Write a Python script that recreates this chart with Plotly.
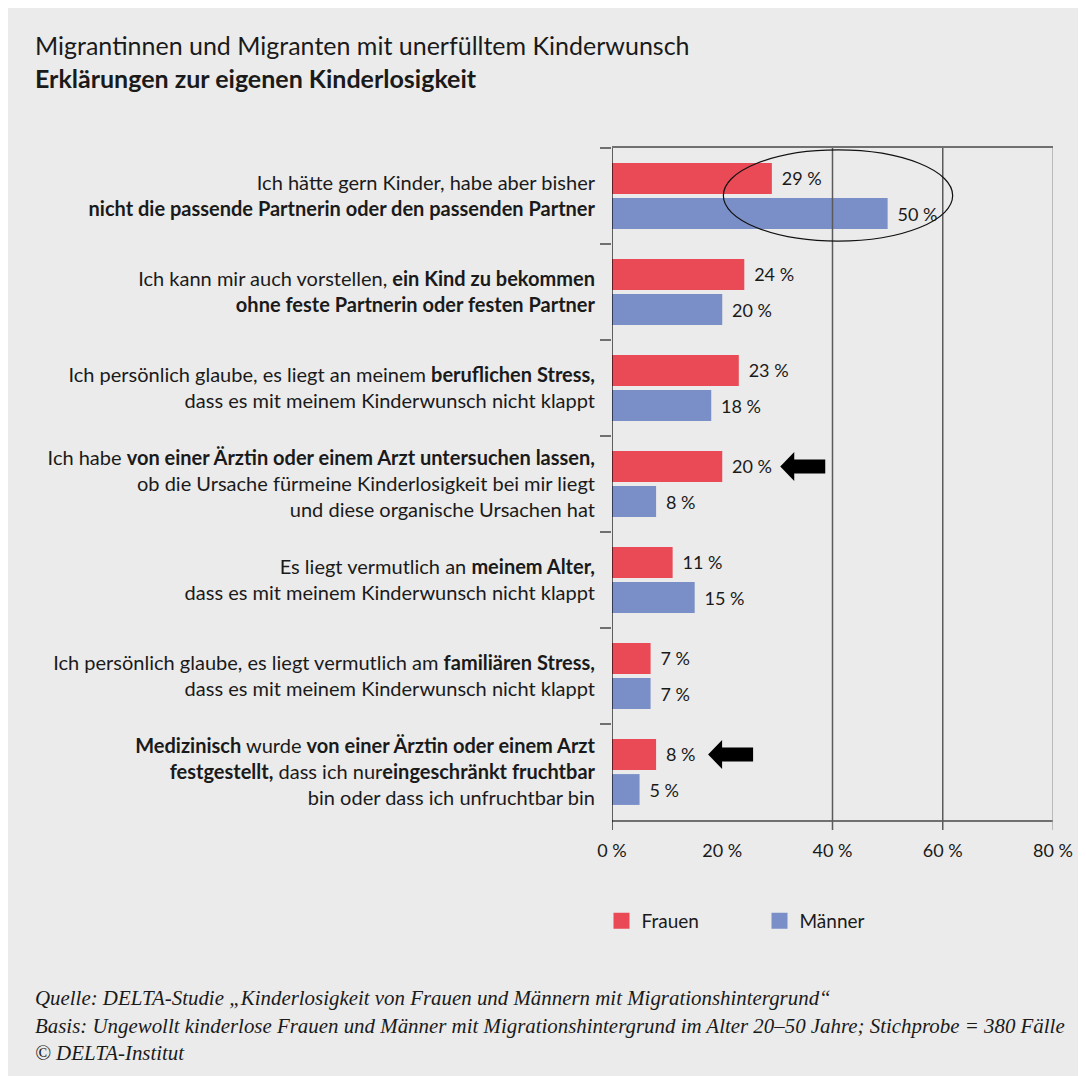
import plotly.graph_objects as go

# ---------------- data ----------------
categories = [
    "Ich hätte gern Kinder, habe aber bisher<br><b>nicht die passende Partnerin oder den passenden Partner</b>",
    "Ich kann mir auch vorstellen, <b>ein Kind zu bekommen</b><br><b>ohne feste Partnerin oder festen Partner</b>",
    "Ich persönlich glaube, es liegt an meinem <b>beruflichen Stress,</b><br>dass es mit meinem Kinderwunsch nicht klappt",
    "Ich habe <b>von einer Ärztin oder einem Arzt untersuchen lassen,</b><br>ob die Ursache fürmeine Kinderlosigkeit bei mir liegt<br>und diese organische Ursachen hat",
    "Es liegt vermutlich an <b>meinem Alter,</b><br>dass es mit meinem Kinderwunsch nicht klappt",
    "Ich persönlich glaube, es liegt vermutlich am <b>familiären Stress,</b><br>dass es mit meinem Kinderwunsch nicht klappt",
    "<b>Medizinisch</b> wurde <b>von einer Ärztin oder einem Arzt</b><br><b>festgestellt,</b> dass ich nur<b>eingeschränkt fruchtbar</b><br>bin oder dass ich unfruchtbar bin",
]
frauen = [29, 24, 23, 20, 11, 7, 8]
maenner = [50, 20, 18, 8, 15, 7, 5]
series_names = ["Frauen", "Männer"]
x_tick_values = [0, 20, 40, 60, 80]
x_tick_labels = ["0 %", "20 %", "40 %", "60 %", "80 %"]

title_line1 = "Migrantinnen und Migranten mit unerfülltem Kinderwunsch"
title_line2 = "Erklärungen zur eigenen Kinderlosigkeit"
footer_lines = [
    "Quelle: DELTA-Studie „Kinderlosigkeit von Frauen und Männern mit Migrationshintergrund“",
    "Basis: Ungewollt kinderlose Frauen und Männer mit Migrationshintergrund im Alter 20–50 Jahre; Stichprobe = 380 Fälle",
    "© DELTA-Institut",
]

# ---------------- style ----------------
OFF = 8  # page body margin
W, H = 1086, 1076
ML, MR, MT, MB = 604, 41, 140, 264
PW, PH = W - ML - MR, H - MT - MB
RED = "#E94A56"
BLUE = "#7A8FC8"
BG = "#EBEBEB"
TXT = "#1a1a1a"
FONT = "Lato"


def px_x(p):
    return (p - OFF - ML) / PW


def px_y(p):
    return (H - MB - (p - OFF)) / PH


PAD = "\u00a0\u2009"

fig = go.Figure()
for name, vals, col in [(series_names[0], frauen, RED), (series_names[1], maenner, BLUE)]:
    fig.add_trace(go.Bar(
        y=categories, x=vals, orientation="h", name=name,
        marker=dict(color=col, line=dict(width=0)),
        text=[f"{PAD}{v} %" for v in vals], textposition="outside",
        textfont=dict(family=FONT, size=18, color=TXT), cliponaxis=False,
        showlegend=False, hoverinfo="x+name",
    ))
# legend entries (larger square symbols)
for name, col in zip(series_names, [RED, BLUE]):
    fig.add_trace(go.Scatter(
        x=[None], y=[None], mode="markers", name=name,
        marker=dict(symbol="square", size=16, color=col),
        showlegend=True,
    ))

shapes = []
# vertical lines
for xv, col, wd in [(40, "#5a5a5a", 1.5), (60, "#5a5a5a", 1.5), (80, "#9a9a9a", 1.2), (0, "#000000", 1.2)]:
    shapes.append(dict(type="line", xref="x", yref="paper", x0=xv, x1=xv,
                       y0=-10 / PH, y1=1, line=dict(color=col, width=wd), layer="above"))
# ellipse highlight
shapes.append(dict(type="circle", xref="x", yref="y", x0=20.2, x1=61.8, y0=-0.48, y1=0.47,
                   line=dict(color="#111111", width=1.2), layer="above"))
# block arrows
for idx, tip in [(3, 58), (6, 52)]:
    path = (f"M {tip},0 L {tip+14},14.5 L {tip+14},7 L {tip+45},7 "
            f"L {tip+45},-7 L {tip+14},-7 L {tip+14},-14.5 Z")
    shapes.append(dict(type="path", xref="x", yref="y", xsizemode="pixel", ysizemode="pixel",
                       xanchor=frauen[idx], yanchor=idx - 17.5 / 96, path=path,
                       fillcolor="#000000", line=dict(width=0), layer="above"))

annotations = []
for i, line in enumerate(footer_lines):
    annotations.append(dict(
        text=f"<i>{line}</i>", xref="paper", yref="paper",
        x=px_x(33), y=px_y(998 + i * 27.5), xanchor="left", yanchor="middle",
        showarrow=False, font=dict(family="Liberation Serif", size=20.9, color=TXT),
    ))

fig.update_layout(
    width=W, height=H,
    margin=dict(l=ML, r=MR, t=MT, b=MB, autoexpand=False),
    paper_bgcolor=BG, plot_bgcolor="rgba(0,0,0,0)",
    font=dict(family=FONT, color=TXT),
    title=dict(
        text=f"{title_line1}<br><b>{title_line2}</b>",
        x=27 / W, xref="container", xanchor="left",
        y=1 - 47 / H, yref="container", yanchor="top",
        font=dict(family=FONT, size=25, color=TXT),
    ),
    barmode="group", bargap=0.27, bargroupgap=0.12,
    xaxis=dict(
        range=[0, 80], tickvals=x_tick_values, ticktext=x_tick_labels,
        showgrid=False, zeroline=False, showline=True, linecolor="#707070", linewidth=2,
        mirror=True, ticks="", ticklabelstandoff=13,
        tickfont=dict(family=FONT, size=18, color=TXT), fixedrange=True,
    ),
    yaxis=dict(
        autorange="reversed", showgrid=False, zeroline=False, showline=False,
        tickson="boundaries", ticks="outside", ticklen=11, tickcolor="#707070", tickwidth=2,
        ticklabelstandoff=16,
        tickfont=dict(family=FONT, size=20, color=TXT), fixedrange=True,
    ),
    legend=dict(
        orientation="h", x=px_x(601.5), xanchor="left", y=px_y(921), yanchor="middle",
        font=dict(family=FONT, size=19, color=TXT), bgcolor="rgba(0,0,0,0)",
        entrywidth=113, itemclick=False, itemdoubleclick=False,
    ),
    shapes=shapes, annotations=annotations,
)

fig.write_html("out.html")
